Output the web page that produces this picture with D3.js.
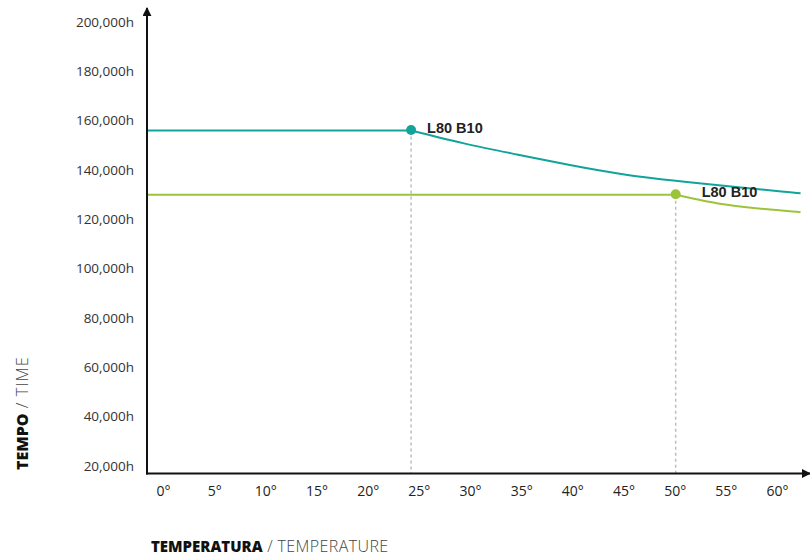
<!DOCTYPE html>
<html>
<head>
<meta charset="utf-8">
<script src="https://cdn.jsdelivr.net/npm/d3@7"></script>
<style>
  html, body { margin: 0; padding: 0; background: #fff; }
  svg { display: block; }
</style>
</head>
<body>
<svg id="chart" width="810" height="560"></svg>
<script>
// ---- data ----
const xTickValues = [0, 5, 10, 15, 20, 25, 30, 35, 40, 45, 50, 55, 60];
const yTickValues = [20000, 40000, 60000, 80000, 100000, 120000, 140000, 160000, 180000, 200000];

const tealTemps  = [0, 25, 30, 35, 40, 45, 50, 55, 60, 61.8];
const tealValues = [156000, 156000, 150800, 146300, 142000, 138300, 135600, 133400, 131300, 130600];

const greenTemps  = [0, 50, 55, 60, 61.8];
const greenValues = [130000, 130000, 125800, 123600, 122900];

const markerTemps  = [25, 50];
const markerValues = [156000, 130000];
const markerLabels = ["L80 B10", "L80 B10"];
const markerColors = ["#12a39a", "#9cc43a"];

const yTitleBold = "TEMPO", yTitleLight = " / TIME";
const xTitleBold = "TEMPERATURA", xTitleLight = " / TEMPERATURE";

// ---- scales ----
const svg = d3.select("#chart");
const x = d3.scaleLinear().domain([0, 60]).range([146.5, 781.5]);
const xLabel = d3.scaleLinear().domain([0, 60]).range([163, 777]);
const y = d3.scaleLinear().domain([20000, 200000]).range([466, 22]);

const axisY0 = 473.5, axisX0 = 147;
const tickFont = "'Open Sans', sans-serif";
const labelDx = [16, 26];

// ---- defs ----
const defs = svg.append("defs");
defs.append("marker").attr("id", "arrow")
  .attr("viewBox", "0 0 10 10").attr("refX", 9).attr("refY", 5)
  .attr("markerWidth", 9).attr("markerHeight", 9).attr("markerUnits", "userSpaceOnUse")
  .attr("orient", "auto")
  .append("path").attr("d", "M0,0 L10,5 L0,10 Z").attr("fill", "#111");

// dashed guides
svg.append("g").selectAll("line").data(markerTemps).join("line")
  .attr("x1", d => x(d)).attr("x2", d => x(d))
  .attr("y1", (d, i) => y(markerValues[i])).attr("y2", axisY0)
  .attr("stroke", "#bdbdbd").attr("stroke-width", 1.5).attr("stroke-dasharray", "3,3");

// lines: flat part (linear) + decay part (smooth)
function drawSeries(temps, values, knee, color) {
  const pts = temps.map((t, i) => [t, values[i]]);
  const flat = pts.filter(p => p[0] <= knee);
  const decay = pts.filter(p => p[0] >= knee);
  const lin = d3.line().x(d => x(d[0])).y(d => y(d[1]));
  const smooth = d3.line().x(d => x(d[0])).y(d => y(d[1])).curve(d3.curveNatural);
  svg.append("path").datum(flat).attr("d", lin)
    .attr("fill", "none").attr("stroke", color).attr("stroke-width", 2);
  svg.append("path").datum(decay).attr("d", smooth)
    .attr("fill", "none").attr("stroke", color).attr("stroke-width", 2);
}
drawSeries(tealTemps, tealValues, markerTemps[0], markerColors[0]);
drawSeries(greenTemps, greenValues, markerTemps[1], markerColors[1]);

// axes
svg.append("line").attr("x1", axisX0).attr("x2", axisX0).attr("y1", axisY0 + 1).attr("y2", 8)
  .attr("stroke", "#111").attr("stroke-width", 2).attr("marker-end", "url(#arrow)");
svg.append("line").attr("x1", axisX0 - 1).attr("x2", 810).attr("y1", axisY0).attr("y2", axisY0)
  .attr("stroke", "#111").attr("stroke-width", 2).attr("marker-end", "url(#arrow)");

// y tick labels
const yAxis = d3.axisLeft(y).tickValues(yTickValues).tickSize(0).tickPadding(0)
  .tickFormat(d => d3.format(",")(d) + "h");
const gy = svg.append("g").attr("transform", "translate(134,0)").call(yAxis);
gy.select(".domain").remove();
gy.selectAll("text").attr("font-family", tickFont).attr("font-size", 13.5).attr("fill", "#333");

// x tick labels
const xAxis = d3.axisBottom(xLabel).tickValues(xTickValues).tickSize(0).tickPadding(0)
  .tickFormat(d => d + "°");
const gx = svg.append("g").attr("transform", "translate(0,486)").call(xAxis);
gx.select(".domain").remove();
gx.selectAll("text").attr("font-family", tickFont).attr("font-size", 14).attr("fill", "#222");

// markers
svg.append("g").selectAll("circle").data(markerTemps).join("circle")
  .attr("cx", d => x(d)).attr("cy", (d, i) => y(markerValues[i]) - 0.5).attr("r", 5)
  .attr("fill", (d, i) => markerColors[i]);
svg.append("g").selectAll("text").data(markerTemps).join("text")
  .attr("x", (d, i) => x(d) + labelDx[i]).attr("y", (d, i) => y(markerValues[i]) - 3)
  .attr("dy", "0.35em")
  .attr("font-family", "'Liberation Sans', Arial, sans-serif").attr("font-weight", "bold")
  .attr("font-size", 14.5).attr("fill", "#222")
  .text((d, i) => markerLabels[i]);

// axis titles
const xt = svg.append("text").attr("x", 151).attr("y", 551.5)
  .attr("font-family", "'Open Sans', sans-serif").attr("fill", "#111");
xt.append("tspan").attr("font-weight", "800").attr("font-size", 15).text(xTitleBold);
xt.append("tspan").attr("font-weight", "300").attr("font-size", 16).attr("letter-spacing", 0.4)
  .attr("fill", "#444").text(xTitleLight);

const yt = svg.append("text").attr("transform", "translate(28,470) rotate(-90)")
  .attr("font-family", "'Open Sans', sans-serif").attr("fill", "#111");
yt.append("tspan").attr("font-weight", "800").attr("font-size", 16).text(yTitleBold);
yt.append("tspan").attr("font-weight", "300").attr("font-size", 16.5).attr("letter-spacing", 1)
  .attr("fill", "#444").text(yTitleLight);
</script>
</body>
</html>
